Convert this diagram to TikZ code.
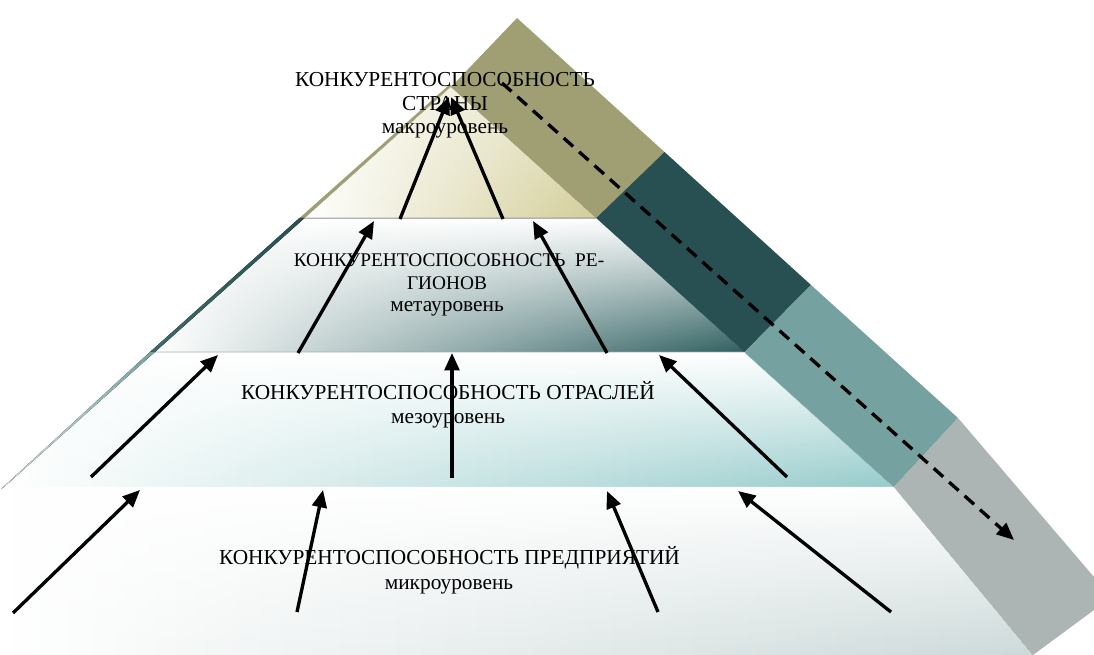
\documentclass[tikz,border=0pt]{standalone}
\usepackage{fontspec}
\setmainfont{Liberation Serif}
\usetikzlibrary{arrows.meta,fadings}

% band colours
\definecolor{bandolive}{RGB}{160,159,116}
\definecolor{bandteal}{RGB}{40,80,82}
\definecolor{bandmid}{RGB}{117,161,160}
\definecolor{bandgray}{RGB}{173,181,180}
% level shading colours
\definecolor{creamright}{RGB}{211,206,152}
\definecolor{tealdeep}{RGB}{47,95,96}
\definecolor{aquaright}{RGB}{150,203,203}
\definecolor{mistright}{RGB}{205,217,217}

\tikzfading[name=whitetop, top color=transparent!0, bottom color=transparent!100]

\begin{document}
\begin{tikzpicture}[x=0.75pt,y=-0.75pt,
  lab/.style={inner sep=0pt, anchor=base, font=\fontsize{16}{19}\selectfont},
  labsmall/.style={inner sep=0pt, anchor=base, font=\fontsize{14.5}{17}\selectfont},
  uparrow/.style={line width=2.5pt, -{Triangle[length=13pt,width=11pt]}},
  downdash/.style={line width=2.5pt, dash pattern=on 9.5pt off 6pt, -{Triangle[length=13pt,width=11pt]}},
  fadewhite/.style={white, path fading=whitetop}]

\useasboundingbox (0,0) rectangle (1094,655);
\fill[white] (0,0) rectangle (1094,655);

% corner points of the pyramid
\coordinate (A)  at (451,87);     % inner apex
\coordinate (L1) at (304.6,218);  % left edge
\coordinate (L2) at (154.9,352);
\coordinate (L3) at (4,487);
\coordinate (R1) at (596.2,218);  % inner right edge
\coordinate (R2) at (744.6,352);
\coordinate (R3) at (894,487);
\coordinate (R4) at (1033,655);
\coordinate (O0) at (517,18);     % outer right edge
\coordinate (O1) at (664.5,152);
\coordinate (O2) at (811,285);
\coordinate (O3) at (958,418);

% levels
\fill[left color=white, right color=creamright] (A) -- (L1) -- (R1) -- cycle;
\fill[white, fill opacity=0.45, path fading=whitetop] (A) -- (L1) -- (R1) -- cycle;

\fill[left color=white, right color=tealdeep] (L1) -- (R1) -- (R2) -- (L2) -- cycle;
\fill[fadewhite] (L1) -- (R1) -- (R2) -- (L2) -- cycle;

\fill[left color=white, right color=aquaright] (L2) -- (R2) -- (R3) -- (L3) -- cycle;
\fill[fadewhite] (L2) -- (R2) -- (R3) -- (L3) -- cycle;

\fill[left color=white, right color=mistright] (0,487) -- (R3) -- (R4) -- (0,655) -- cycle;
\fill[fadewhite] (0,487) -- (R3) -- (R4) -- (0,655) -- cycle;

% level borders
\draw[black!30, line width=0.6pt] (L1) -- (R1);
\draw[black!12, line width=0.6pt] (L2) -- (R2);

% right band
\fill[bandolive] (O0) -- (O1) -- (R1) -- (A) -- cycle;
\fill[bandteal] (O1) -- (O2) -- (R2) -- (R1) -- cycle;
\fill[bandmid] (O2) -- (O3) -- (R3) -- (R2) -- cycle;
\fill[bandgray] (O3) -- (1094,577) -- (1094,610) -- (R4) -- (R3) -- cycle;

% left side of the band
\fill[bandolive] (452,85.5) -- (L1) -- (299.5,218) -- (449,85) -- cycle;
\fill[top color=bandteal, bottom color=bandteal!70!bandmid] (L1) -- (L2) -- (150,352) -- (299.5,218) -- cycle;
\fill[top color=bandmid, bottom color=bandmid!25] (L2) -- (L3) -- (1,489) -- (150,352) -- cycle;

% texts
\node[lab] (t1a) at (445,87) {КОНКУРЕНТОСПОСОБНОСТЬ};
\node[lab] (t1b) at (445,111) {СТРАНЫ};
\node[lab] (t1c) at (445,134) {макроуровень};

\node[labsmall] (t2a) at (449,267) {КОНКУРЕНТОСПОСОБНОСТЬ\ \ РЕ-};
\node[labsmall] (t2b) at (447,290) {ГИОНОВ};
\node[lab] (t2c) at (447,312) {метауровень};

\node[lab] (t3a) at (448,399) {КОНКУРЕНТОСПОСОБНОСТЬ ОТРАСЛЕЙ};
\node[lab] (t3b) at (448,423) {мезоуровень};

\node[lab] (t4a) at (449.5,564) {КОНКУРЕНТОСПОСОБНОСТЬ ПРЕДПРИЯТИЙ};
\node[lab] (t4b) at (449,589) {микроуровень};

% arrow end points
\coordinate (a1s) at (400,219);  \coordinate (a1t) at (449,97);
\coordinate (a2s) at (503,219);  \coordinate (a2t) at (451,97);
\coordinate (b1s) at (298,353);  \coordinate (b1t) at (374,221);
\coordinate (b2s) at (607,353);  \coordinate (b2t) at (533,221);
\coordinate (c1s) at (91,477);   \coordinate (c1t) at (218,355);
\coordinate (c2s) at (452,478);  \coordinate (c2t) at (452,353);
\coordinate (c3s) at (787,477);  \coordinate (c3t) at (659,355);
\coordinate (d1s) at (13,613);   \coordinate (d1t) at (140,490);
\coordinate (d2s) at (297,612);  \coordinate (d2t) at (323,490);
\coordinate (d3s) at (658,612);  \coordinate (d3t) at (607,491);
\coordinate (d4s) at (891,612);  \coordinate (d4t) at (738,491);
\coordinate (ds)  at (502,83);   \coordinate (dt)  at (1014,540);

% upward arrows
\foreach \p in {a1,a2,b1,b2,c1,c2,c3,d1,d2,d3,d4}
  \draw[uparrow] (\p s) -- (\p t);

% dashed arrow down the band
\draw[downdash] (ds) -- (dt);
\end{tikzpicture}
\end{document}
